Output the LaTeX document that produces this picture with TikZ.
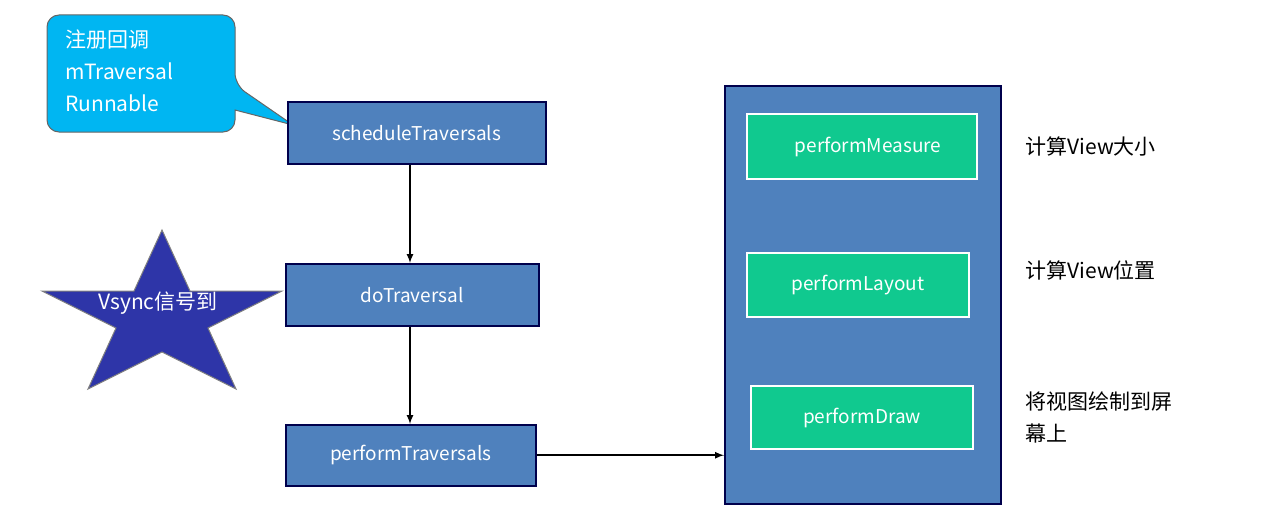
\documentclass[tikz,border=0pt]{standalone}
\usepackage{fontspec}
\setmainfont{Noto Sans CJK SC}
\begin{document}
\begin{tikzpicture}[x=1pt,y=-1pt,
  box/.style={draw=black!70!blue,line width=1.5pt,fill=blue!45!cyan!60!black!75!white,fill=boxblue,text=white,font=\fontsize{19}{23}\selectfont,anchor=north west,inner sep=0pt},
  gbox/.style={draw=white,line width=2pt,fill=gboxc,text=white,font=\fontsize{19}{23}\selectfont,anchor=north west,inner sep=0pt},
  side/.style={anchor=west,font=\fontsize{21}{27}\selectfont,align=left},
  arr/.style={-latex,line width=2pt}]
\definecolor{boxblue}{HTML}{4F81BD}
\definecolor{gboxc}{HTML}{10C98F}
\definecolor{starc}{HTML}{2E35A8}
\definecolor{callc}{HTML}{00B6F2}
\useasboundingbox (0,0) rectangle (1263,527);
% callout
\draw[fill=callc,draw=black!60,line width=1pt,rounded corners=12pt]
  (47,15) -- (235,15) -- (235,85) [sharp corners]-- (293,125) -- (235,110) [rounded corners=12pt]-- (235,132) -- (47,132) -- cycle;
\node[anchor=north west,text=white,align=left,font=\fontsize{21}{32}\selectfont,inner sep=0pt] (cb) at (65,30) {注册回调\\mTraversal\\Runnable};
% star
\draw[fill=starc,draw=black!50,line width=1pt] (162,230) -- (190,291) -- (282,291) -- (208,328) -- (236,389) -- (162,352) -- (88,389) -- (116,328) -- (42,291) -- (134,291) -- cycle;
\node[text=white,font=\fontsize{21}{25}\selectfont] (star) at (158,303) {Vsync信号到};
% main boxes
\node[box,minimum width=258pt,minimum height=62pt] (st) at (287,101) {scheduleTraversals};
\node[box,minimum width=253pt,minimum height=62pt] (dt) at (285,263) {doTraversal};
\node[box,minimum width=250pt,minimum height=61pt] (pt) at (285,424) {performTraversals};
\node[box,minimum width=276pt,minimum height=418pt] (big) at (724,85) {};
\node[gbox,minimum width=230pt,minimum height=65pt] (pm) at (746,113) {\hspace*{12pt}performMeasure};
\node[gbox,minimum width=222pt,minimum height=64pt] (pl) at (746,252) {performLayout};
\node[gbox,minimum width=222pt,minimum height=63pt] (pd) at (750,385) {performDraw};
\coordinate (a1) at (410,163);
\draw[arr] (st.south -| a1) -- (dt.north -| a1);
\draw[arr] (dt.south -| a1) -- (pt.north -| a1);
\draw[arr] (pt.east) -- (big.west |- pt.east);
\node[side] (t1) at (1022,146) {计算View大小};
\node[side] (t2) at (1022,270) {计算View位置};
\node[side,anchor=north west,font=\fontsize{21}{32}\selectfont] (t3) at (1022,388) {将视图绘制到屏\\幕上};
\end{tikzpicture}
\end{document}
